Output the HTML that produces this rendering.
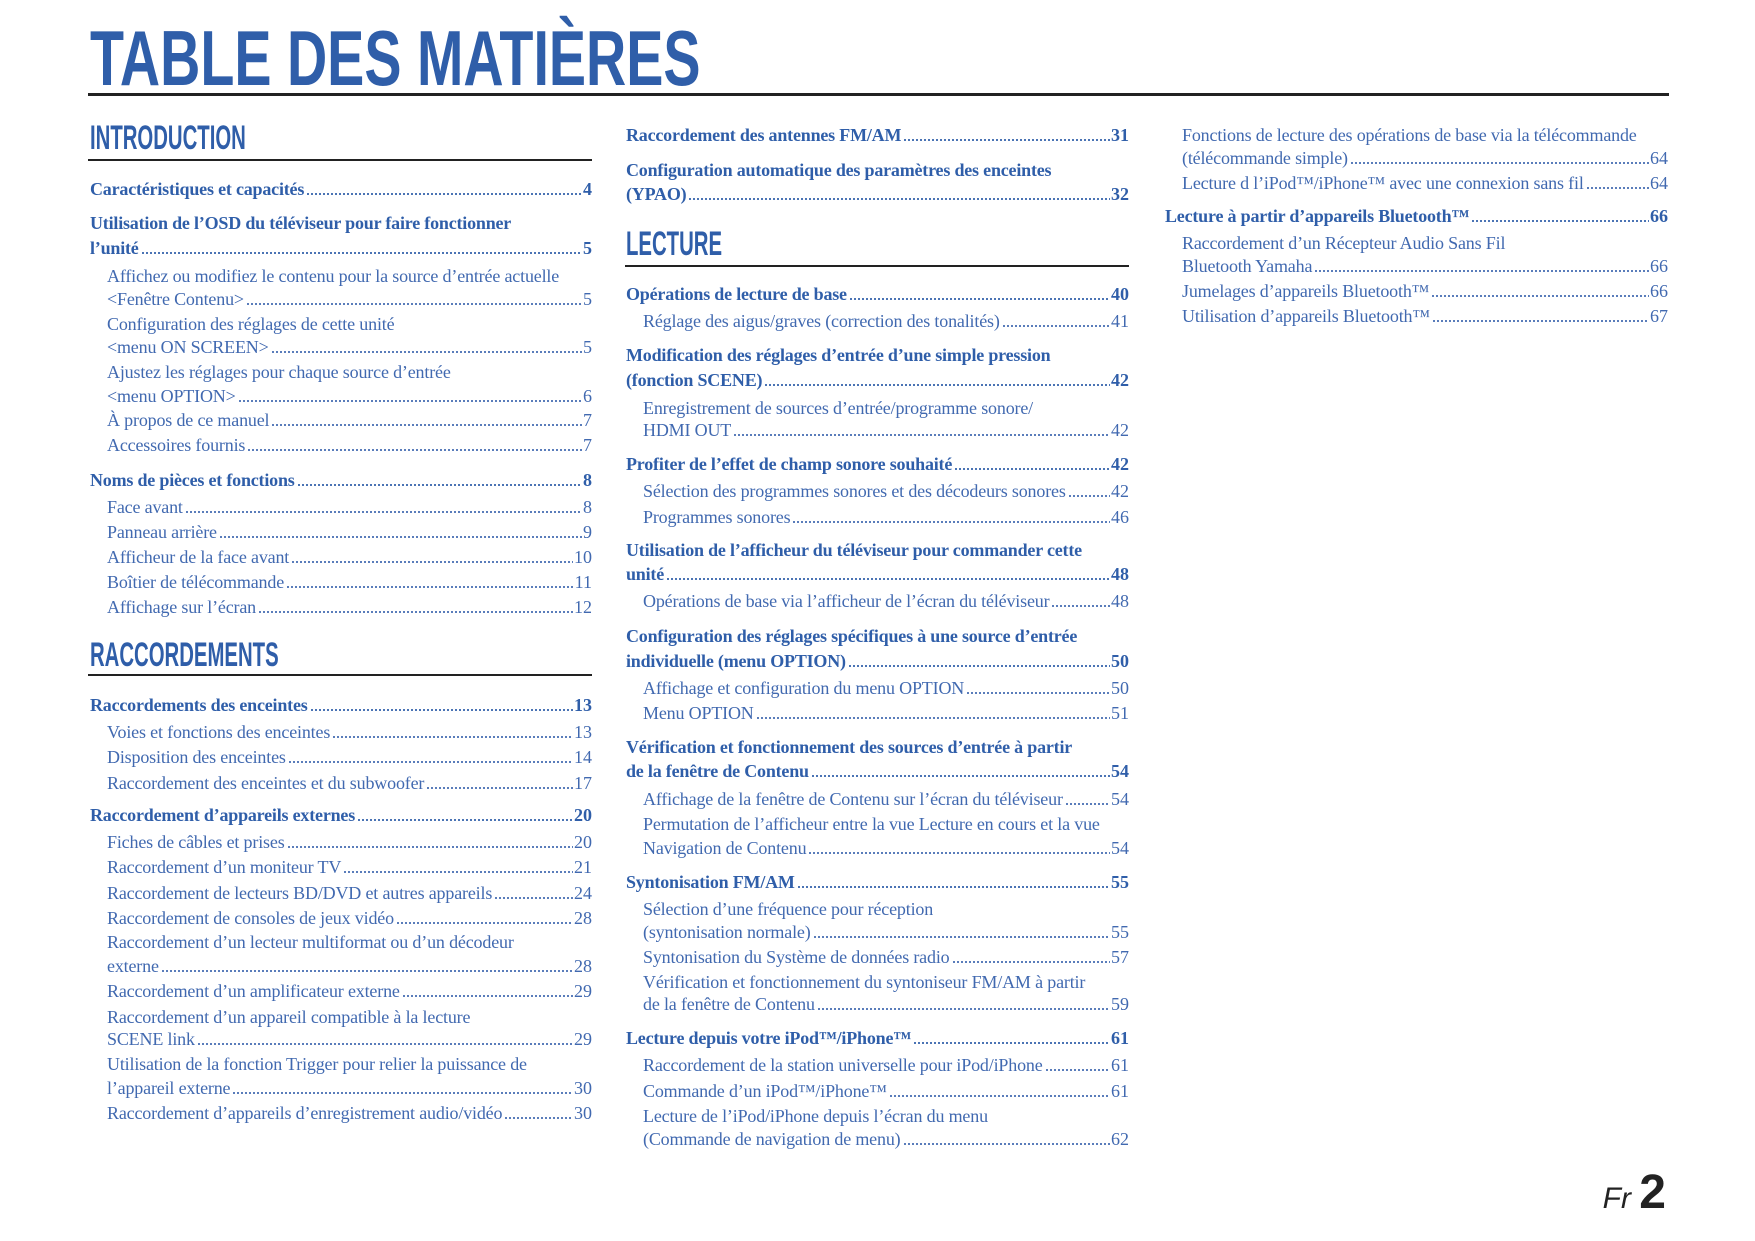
<!DOCTYPE html>
<html><head><meta charset="utf-8">
<style>
body{margin:0;width:1755px;height:1241px;background:#fff;position:relative;overflow:hidden;font-family:"Liberation Serif",serif;}
.t{position:absolute;left:90px;top:19px;font:bold 78px/78px "Liberation Sans",sans-serif;color:#2f5ea9;transform:scaleX(0.714);transform-origin:0 0;white-space:nowrap;}
.rule{position:absolute;background:#222;}
.h{position:absolute;font:bold 34px/34px "Liberation Sans",sans-serif;color:#2f5ea9;transform:scaleX(0.598);transform-origin:0 0;white-space:nowrap;}
.row{position:absolute;height:20px;line-height:20px;font-size:18px;display:flex;color:#4169b0;white-space:nowrap;}
.row.l1{font-weight:bold;color:#2f5ea9;letter-spacing:-0.2px;}
.row.l2{letter-spacing:-0.17px;}
.ld{flex:1;margin:0 1px 0 2px;background:radial-gradient(circle,currentColor 0.9px,transparent 1.2px) 0 13px/4px 4px repeat-x;}
.pg{letter-spacing:0;}
</style></head><body>
<div class="t">TABLE DES MATIÈRES</div>
<div class="rule" style="left:88px;top:93px;width:1581px;height:3px"></div>
<div class="h" style="left:90px;top:121px">INTRODUCTION</div>
<div class="rule" style="left:88px;top:159px;width:504px;height:1.5px"></div>
<div class="h" style="left:90px;top:638px">RACCORDEMENTS</div>
<div class="rule" style="left:88px;top:674px;width:504px;height:1.5px"></div>
<div class="h" style="left:626px;top:227px">LECTURE</div>
<div class="rule" style="left:625px;top:265px;width:504px;height:1.5px"></div>
<div style="position:absolute;right:89px;top:1165px;white-space:nowrap;color:#222"><span style="font:italic 30px 'Liberation Sans',sans-serif">Fr </span><span style="font:bold 48px 'Liberation Sans',sans-serif">2</span></div>
<script>
const colLeft=[90,626,1165], colRight=[592,1129,1668];
const rows=[
[0,1,195,"Caractéristiques et capacités","4"],
[0,1,229,"Utilisation de l’OSD du téléviseur pour faire fonctionner",null],
[0,1,254,"l’unité ","5"],
[0,2,282,"Affichez ou modifiez le contenu pour la source d’entrée actuelle",null],
[0,2,305,"<Fenêtre Contenu> ","5"],
[0,2,330,"Configuration des réglages de cette unité",null],
[0,2,353,"<menu ON SCREEN>","5"],
[0,2,378,"Ajustez les réglages pour chaque source d’entrée",null],
[0,2,402,"<menu OPTION> ","6"],
[0,2,426,"À propos de ce manuel","7"],
[0,2,451,"Accessoires fournis ","7"],
[0,1,486,"Noms de pièces et fonctions","8"],
[0,2,513,"Face avant ","8"],
[0,2,538,"Panneau arrière","9"],
[0,2,563,"Afficheur de la face avant ","10"],
[0,2,588,"Boîtier de télécommande ","11"],
[0,2,613,"Affichage sur l’écran","12"],
[0,1,711,"Raccordements des enceintes","13"],
[0,2,738,"Voies et fonctions des enceintes","13"],
[0,2,763,"Disposition des enceintes","14"],
[0,2,789,"Raccordement des enceintes et du subwoofer ","17"],
[0,1,821,"Raccordement d’appareils externes ","20"],
[0,2,848,"Fiches de câbles et prises","20"],
[0,2,873,"Raccordement d’un moniteur TV ","21"],
[0,2,899,"Raccordement de lecteurs BD/DVD et autres appareils","24"],
[0,2,924,"Raccordement de consoles de jeux vidéo ","28"],
[0,2,948,"Raccordement d’un lecteur multiformat ou d’un décodeur",null],
[0,2,972,"externe","28"],
[0,2,997,"Raccordement d’un amplificateur externe ","29"],
[0,2,1023,"Raccordement d’un appareil compatible à la lecture",null],
[0,2,1045,"SCENE link","29"],
[0,2,1070,"Utilisation de la fonction Trigger pour relier la puissance de",null],
[0,2,1094,"l’appareil externe ","30"],
[0,2,1119,"Raccordement d’appareils d’enregistrement audio/vidéo","30"],
[1,1,141,"Raccordement des antennes FM/AM ","31"],
[1,1,176,"Configuration automatique des paramètres des enceintes",null],
[1,1,200,"(YPAO) ","32"],
[1,1,300,"Opérations de lecture de base ","40"],
[1,2,327,"Réglage des aigus/graves (correction des tonalités)","41"],
[1,1,361,"Modification des réglages d’entrée d’une simple pression",null],
[1,1,386,"(fonction SCENE)","42"],
[1,2,414,"Enregistrement de sources d’entrée/programme sonore/",null],
[1,2,436,"HDMI OUT","42"],
[1,1,470,"Profiter de l’effet de champ sonore souhaité ","42"],
[1,2,497,"Sélection des programmes sonores et des décodeurs sonores","42"],
[1,2,523,"Programmes sonores ","46"],
[1,1,556,"Utilisation de l’afficheur du téléviseur pour commander cette",null],
[1,1,580,"unité ","48"],
[1,2,607,"Opérations de base via l’afficheur de l’écran du téléviseur ","48"],
[1,1,642,"Configuration des réglages spécifiques à une source d’entrée",null],
[1,1,667,"individuelle (menu OPTION)","50"],
[1,2,694,"Affichage et configuration du menu OPTION ","50"],
[1,2,719,"Menu OPTION","51"],
[1,1,753,"Vérification et fonctionnement des sources d’entrée à partir",null],
[1,1,777,"de la fenêtre de Contenu ","54"],
[1,2,805,"Affichage de la fenêtre de Contenu sur l’écran du téléviseur ","54"],
[1,2,830,"Permutation de l’afficheur entre la vue Lecture en cours et la vue",null],
[1,2,854,"Navigation de Contenu","54"],
[1,1,888,"Syntonisation FM/AM  ","55"],
[1,2,915,"Sélection d’une fréquence pour réception",null],
[1,2,938,"(syntonisation normale)","55"],
[1,2,963,"Syntonisation du Système de données radio ","57"],
[1,2,988,"Vérification et fonctionnement du syntoniseur FM/AM à partir",null],
[1,2,1010,"de la fenêtre de Contenu","59"],
[1,1,1044,"Lecture depuis votre iPod™/iPhone™ ","61"],
[1,2,1071,"Raccordement de la station universelle pour iPod/iPhone ","61"],
[1,2,1097,"Commande d’un iPod™/iPhone™","61"],
[1,2,1122,"Lecture de l’iPod/iPhone depuis l’écran du menu",null],
[1,2,1145,"(Commande de navigation de menu) ","62"],
[2,2,141,"Fonctions de lecture des opérations de base via la télécommande",null],
[2,2,164,"(télécommande simple)","64"],
[2,2,189,"Lecture d l’iPod™/iPhone™ avec une connexion sans fil ","64"],
[2,1,222,"Lecture à partir d’appareils Bluetooth™ ","66"],
[2,2,249,"Raccordement d’un Récepteur Audio Sans Fil",null],
[2,2,272,"Bluetooth Yamaha ","66"],
[2,2,297,"Jumelages d’appareils Bluetooth™","66"],
[2,2,322,"Utilisation d’appareils Bluetooth™","67"]
];
rows.forEach(r=>{
  const [c,l,b,txt,pg]=r;
  const left=colLeft[c]+(l===2?17:0);
  const d=document.createElement('div');
  d.className='row l'+l;
  d.style.left=left+'px';
  d.style.top=(b-16)+'px';
  d.style.width=(colRight[c]-left)+'px';
  
  
  const s=document.createElement('span');
  s.textContent=txt;
  d.appendChild(s);
  if(pg!==null){
    const ld=document.createElement('span');
    ld.className='ld';
    d.appendChild(ld);
    const p=document.createElement('span');
    p.className='pg';
    p.textContent=pg;
    
    
    d.appendChild(p);
  }
  document.body.appendChild(d);
});
</script>
</body></html>
